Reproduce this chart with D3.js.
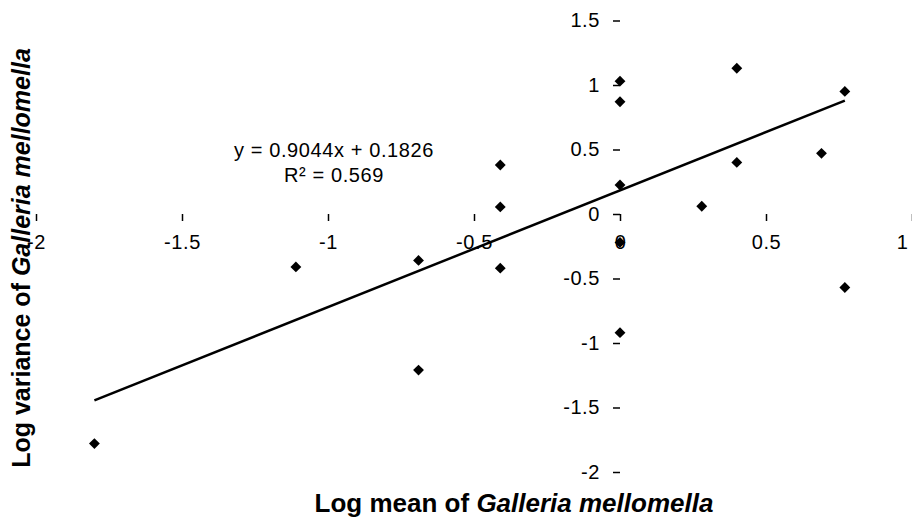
<!DOCTYPE html>
<meta charset="utf-8">
<style>
body { margin: 0; background: #fff; }
text { font-family: "Liberation Sans", Arial, sans-serif; fill: #000; }
.tick text { font-size: 20px; letter-spacing: 0.6px; }
.tick line { stroke: #000; stroke-width: 1.5px; }
.domain { display: none; }
.title { font-size: 25px; font-weight: bold; }
.eq { font-size: 20px; letter-spacing: 0.6px; }
</style>
<body>
<svg width="912" height="522"></svg>
<script src="https://d3js.org/d3.v7.min.js"></script>
<script>

// log mean (x) and log variance (y) of Galleria mellomella
var logMean = [-1.80, -1.11, -0.69, -0.69, -0.41, -0.41, -0.41, 0.0, 0.0, 0.0, 0.0, 0.0, 0.28, 0.40, 0.40, 0.69, 0.77, 0.77];
var logVar  = [-1.78, -0.41, -0.36, -1.21, 0.38, 0.055, -0.42, 1.03, 0.87, 0.225, -0.22, -0.92, 0.06, 1.13, 0.40, 0.47, 0.95, -0.57];

var xTicks = [-2, -1.5, -1, -0.5, 0, 0.5, 1];
var yTicks = [-2, -1.5, -1, -0.5, 0, 0.5, 1, 1.5];

var slope = 0.9044, intercept = 0.1826, r2 = 0.569;

var svg = d3.select("svg");

var x = d3.scaleLinear().domain([-2, 1]).range([36, 912]);
var y = d3.scaleLinear().domain([-2, 1.5]).range([472, 20.5]);

var fmt = function(d) { return String(d); };

var gx = svg.append("g")
    .attr("transform", "translate(0," + y(0) + ")")
    .call(d3.axisBottom(x).tickValues(xTicks).tickFormat(fmt)
      .tickSizeInner(7).tickSizeOuter(0).tickPadding(14));

// last label sits on the right edge, keep it inside
gx.selectAll(".tick text")
    .filter(function(d) { return d === 1; })
    .attr("text-anchor", "end")
    .attr("dx", "-0.2em");

svg.append("g")
    .attr("transform", "translate(" + x(0) + ",0)")
    .call(d3.axisLeft(y).tickValues(yTicks).tickFormat(fmt)
      .tickSizeInner(7).tickSizeOuter(0).tickPadding(13));

// trend line over the data range
var xMin = d3.min(logMean), xMax = d3.max(logMean);
svg.append("line")
    .attr("x1", x(xMin)).attr("y1", y(slope * xMin + intercept))
    .attr("x2", x(xMax)).attr("y2", y(slope * xMax + intercept))
    .attr("stroke", "#000")
    .attr("stroke-width", 2.5);

var pts = logMean.map(function(d, i) { return {x: d, y: logVar[i]}; });

svg.append("g")
  .selectAll("path")
  .data(pts)
  .enter().append("path")
    .attr("d", d3.symbol().type(d3.symbolDiamond2).size(75))
    .attr("transform", function(d) { return "translate(" + x(d.x) + "," + y(d.y) + ")"; })
    .attr("fill", "#000");

// equation label
var eq = svg.append("text")
    .attr("class", "eq")
    .attr("text-anchor", "middle");
eq.append("tspan")
    .attr("x", 334).attr("y", 157)
    .text("y = " + slope.toFixed(4) + "x + " + intercept.toFixed(4));
eq.append("tspan")
    .attr("x", 334).attr("y", 182)
    .text("R\u00b2 = " + r2.toFixed(3));

// axis titles
var xt = svg.append("text")
    .attr("class", "title")
    .style("font-size", "26px")
    .attr("x", 514).attr("y", 512)
    .attr("text-anchor", "middle");
xt.append("tspan").text("Log mean of ");
xt.append("tspan").attr("font-style", "italic").text("Galleria mellomella");

var yt = svg.append("text")
    .attr("class", "title")
    .attr("transform", "translate(30,258) rotate(-90)")
    .attr("text-anchor", "middle");
yt.append("tspan").text("Log variance of ");
yt.append("tspan").attr("font-style", "italic").text("Galleria mellomella");

</script>
</body>
